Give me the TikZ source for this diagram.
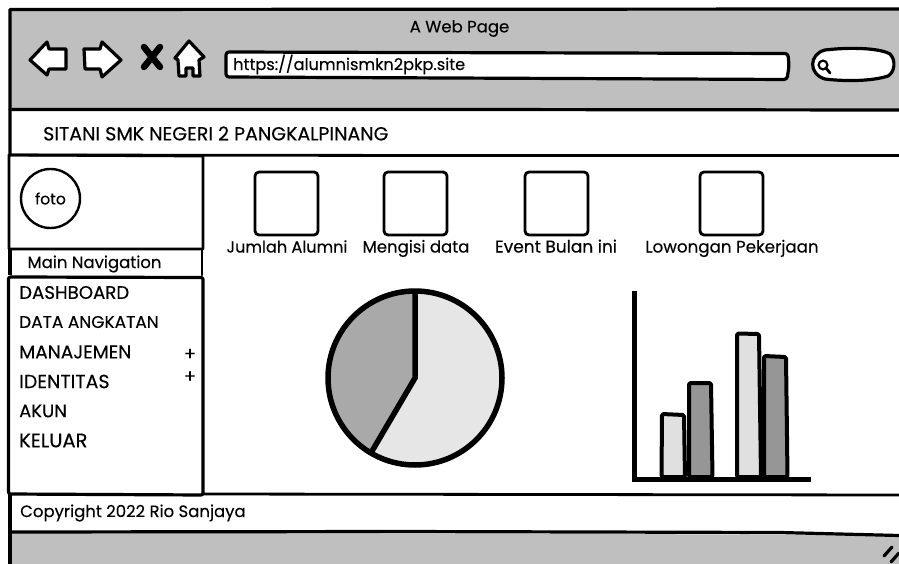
\documentclass[tikz,border=0pt]{standalone}
\usepackage{fontspec}
\setmainfont{Poppins}[FakeBold=0.25]
\usetikzlibrary{calc}
\definecolor{chrome}{HTML}{BFBFBF}
\definecolor{pielight}{HTML}{E6E6E6}
\definecolor{piedark}{HTML}{A9A9A9}
\definecolor{barlight}{HTML}{E0E0E0}
\definecolor{bardark}{HTML}{969696}
\newcommand{\fsz}[1]{\fontsize{#1}{#1}\selectfont}
\tikzset{
  x=1pt,y=-1pt,
  ink/.style={draw=black,line width=3.2pt,line join=round,line cap=round},
  thinink/.style={draw=black,line width=2.8pt,line join=round,line cap=round},
  iconink/.style={draw=black,line width=3.2pt,line join=round,line cap=round,fill=white},
  label/.style={inner sep=0pt,font=\fsz{16.5},text=black},
  statlabel/.style={label,anchor=base},
  capslabel/.style={inner sep=0pt,anchor=west,font=\fsz{18},text=black},
  statbox/.style={draw=black,line width=2.8pt,rounded corners=4pt,fill=white,minimum width=63pt,minimum height=63pt,inner sep=0pt},
  barbox/.style={draw=black,line width=4pt,rounded corners=1.5pt,line join=round},
  axis/.style={draw=black,line width=5pt},
}
\begin{document}
\begin{tikzpicture}
\useasboundingbox (0,0) rectangle (899,564);
\fill[white] (0,0) rectangle (899,564);
% chrome
\path[fill=chrome] (10,9) -- (899,9) -- (899,110) -- (10,110) -- cycle;
\path[fill=chrome] (10,532) -- (899,535) -- (899,564) -- (10,564) -- cycle;
% frame lines
\draw[ink] (899,9) -- (10,9.5) -- (10,155);
\draw[line width=3.6pt] (10,494) -- (10,564);
\draw[ink] (10,109.5) -- (450,109.5) -- (899,110);
\draw[thinink] (10,155) -- (450,155.5) -- (899,155.5);
\draw[thinink] (203,494) -- (899,495);
\draw[ink] (10,532) -- (400,531.5) -- (780,532.5) -- (899,535.5);
% sidebar
\draw[thinink] (9,155) -- (203,156) -- (203,249) -- (9,249) -- cycle;
\draw[thinink] (202,249) -- (202,275);
\draw[line width=4pt] (10,249) -- (10,275);
\draw[ink,rounded corners=2pt] (8.5,277) -- (203,277.5) -- (203,495) -- (8.5,494) -- cycle;
% photo
\node[circle,draw=black,line width=2.4pt,minimum size=59pt,inner sep=0pt,font=\fsz{15.6}] (foto) at (50.5,198.5) {foto};
\node[label] (nav) at (94.5,264) {Main Navigation};
% menu
\node[capslabel,font=\fsz{18.2}] (m1) at (19,292.5) {DASHBOARD};
\node[capslabel,font=\fsz{17}] (m2) at (19,322) {DATA ANGKATAN};
\node[capslabel,font=\fsz{18.6}] (m3) at (19,352) {MANAJEMEN};
\node[capslabel,font=\fsz{19}] (m4) at (19,381.5) {IDENTITAS};
\node[capslabel,font=\fsz{18}] (m5) at (19,411) {AKUN};
\node[capslabel,font=\fsz{19.5}] (m6) at (19,440.5) {KELUAR};
\node[label,font=\fsz{18}] (p1) at (190,354.5) {+};
\node[label,font=\fsz{18}] (p2) at (190,377) {+};
\node[label] (title) at (459.5,28.5) {A Web Page};
\node[inner sep=0pt,anchor=west,font=\fsz{19}] (brand) at (43,133.5) {SITANI SMK NEGERI 2 PANGKALPINANG};
\node[label,anchor=west] (copy) at (20,513) {Copyright 2022 Rio Sanjaya};
% browser icons
\draw[iconink] (30,60) -- (47,42) -- (49,49) -- (66,49) -- (66,69) -- (49,69) -- (47,75) -- cycle;
\draw[iconink] (84,49) -- (100,49) -- (102,42) -- (121,60) -- (102,77) -- (100,69) -- (85,69) -- cycle;
\draw[black,line width=6.5pt,line cap=round] (144,47) -- (160,67);
\draw[black,line width=6.5pt,line cap=round] (160,47) -- (144,67);
\draw[iconink] (189,41) -- (204,57) -- (199,60) -- (200,76) -- (193,76) -- (193,68) -- (186,68) -- (186,76) -- (179,76) -- (178,60) -- (175,58) -- cycle;
% address bar
\draw[ink,fill=white,rounded corners=3pt] (226,52) -- (788,53.5) -- (789,66) -- (787,79.5) -- (226,77) -- cycle;
\node[label,anchor=west,font=\fsz{16.2}] (url) at (233,64.5) {https://alumnismkn2pkp.site};
% search
\draw[ink,fill=white] (825,50) .. controls (850,47) and (880,48) .. (890,54) .. controls (896,60) and (895,72) .. (888,76) .. controls (870,82) and (840,81) .. (825,79) .. controls (808,74) and (809,54) .. (825,50) -- cycle;
\draw[black,line width=2.2pt] (823,65) circle (4.4pt);
\draw[black,line width=2.8pt,line cap=round] (826,68) -- (830,73);
% stat boxes
\node[statbox] (s1) at (286.5,203.5) {};
\node[statbox] (s2) at (415.5,203.5) {};
\node[statbox] (s3) at (556.5,203.5) {};
\node[statbox] (s4) at (731.5,203.5) {};
\node[statlabel,font=\fsz{16.1}] (l1) at (287,252.5) {Jumlah Alumni};
\node[statlabel] (l2) at (416,252.5) {Mengisi data};
\node[statlabel,font=\fsz{17}] (l3) at (556,252.5) {Event Bulan ini};
\node[statlabel,font=\fsz{16.7}] (l4) at (732,252.5) {Lowongan Pekerjaan};
% pie
\coordinate (pc) at (415,378);
\fill[pielight] (pc) circle (87pt);
\fill[piedark] (pc) -- (415,291) arc[start angle=-90,end angle=-239.6,radius=87] -- cycle;
\draw[black,line width=5.5pt] (pc) circle (87pt);
\draw[black,line width=5.5pt,line join=miter] (415,291) -- (pc) -- (371.5,452);
% bars
\draw[barbox,fill=barlight] (661.5,477) -- (662,414) -- (684,415) -- (685,477) -- cycle;
\draw[barbox,fill=bardark] (689,477) -- (689,383) -- (711,383) -- (712.5,477) -- cycle;
\draw[barbox,fill=barlight] (737,477) -- (737,333.5) -- (759,334) -- (761,477) -- cycle;
\draw[barbox,fill=bardark] (764,477) -- (764,356) -- (786,357) -- (787.5,477) -- cycle;
\draw[axis] (634,291) -- (634,479.5) -- (811,479.5);
% resize grip
\draw[black,line width=3.2pt,line cap=round] (884,556) -- (892,547);
\draw[black,line width=3.2pt,line cap=round] (891,562) -- (899,553);
\end{tikzpicture}
\end{document}
